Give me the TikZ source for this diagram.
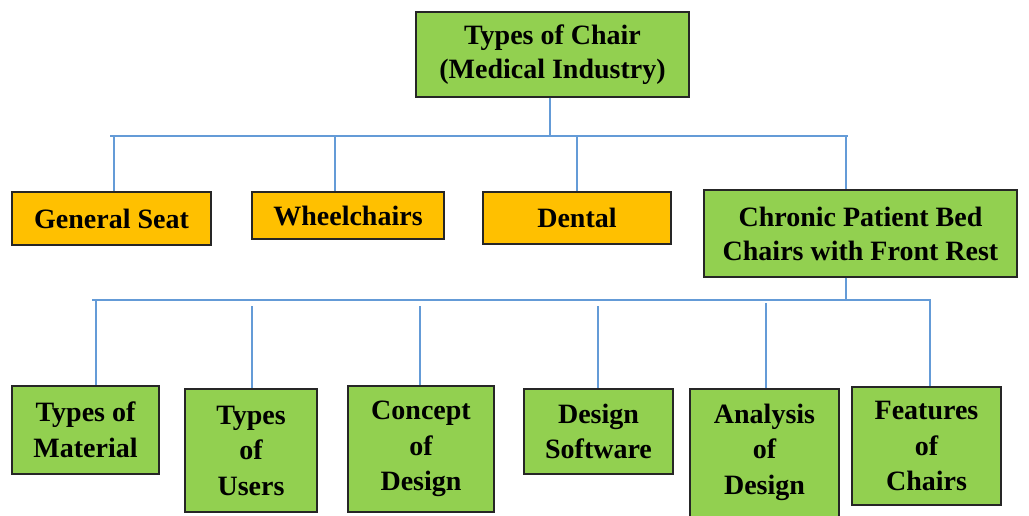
\documentclass[tikz,border=0pt]{standalone}
\usepackage{fontspec}
\setmainfont{Liberation Serif}

\definecolor{boxgreen}{RGB}{146,208,80}
\definecolor{boxorange}{RGB}{255,192,0}
\definecolor{linkblue}{RGB}{100,155,215}

\begin{document}
\begin{tikzpicture}[x=1pt,y=-1pt,
    boxtext/.style={inner sep=0pt, align=center, font=\bfseries\fontsize{28}{34}\selectfont},
    box/.style={boxtext, draw=black!85, line width=1.2pt},
    greenbox/.style={box, fill=boxgreen},
    orangebox/.style={box, fill=boxorange},
    lowbox/.style={greenbox, font=\bfseries\fontsize{28}{35.5}\selectfont},
    link/.style={draw=linkblue, line width=1.6pt}]
    \useasboundingbox (0,0) rectangle (1029,516);

    % top
    \node[greenbox, minimum width=273, minimum height=85] (chair) at (552.5,54.5) {Types of Chair\\(Medical Industry)};

    % first row
    \node[orangebox, minimum width=199, minimum height=53] (seat) at (111.5,218.5) {General Seat};
    \node[orangebox, minimum width=192, minimum height=47] (wheel) at (348,215.5) {Wheelchairs};
    \node[orangebox, minimum width=188, minimum height=52] (dental) at (577,218) {Dental};
    \node[greenbox, minimum width=313, minimum height=87] (chronic) at (860.5,233.5) {Chronic Patient Bed\\Chairs with Front Rest};

    % second row
    \node[lowbox, minimum width=147, minimum height=88] (material) at (85.5,430) {Types of\\Material};
    \node[lowbox, minimum width=132, minimum height=123] (users) at (251,450.5) {Types\\of\\Users};
    \node[lowbox, minimum width=146, minimum height=126] (concept) at (421,449) {Concept\\of\\Design};
    \node[lowbox, minimum width=149, minimum height=85] (software) at (598.5,431.5) {Design\\Software};
    \node[lowbox, minimum width=149, minimum height=141] (analysis) at (764.5,459.5) {};
    \node[boxtext, font=\bfseries\fontsize{28}{35.5}\selectfont] (analysistxt) at (764.5,452) {Analysis\\of\\Design};
    \node[lowbox, minimum width=149, minimum height=118] (features) at (926.5,446) {Features\\of\\Chairs};

    % upper bus
    \coordinate (top) at (550,136);
    \draw[link] (chair.south -| top) -- (top);
    \draw[link] (110,136) -- (848,136);
    \coordinate (t1) at (114,136);
    \coordinate (t2) at (335,136);
    \coordinate (t3) at (577,136);
    \coordinate (t4) at (846,136);
    \draw[link] (t1) -- (t1 |- seat.north);
    \draw[link] (t2) -- (t2 |- wheel.north);
    \draw[link] (t3) -- (t3 |- dental.north);
    \draw[link] (t4) -- (t4 |- chronic.north);

    % lower bus
    \coordinate (low) at (846,300);
    \draw[link] (chronic.south -| low) -- (low);
    \draw[link] (92,300) -- (931,300);
    \coordinate (b1) at (96,300);
    \coordinate (b2) at (252,306);
    \coordinate (b3) at (420,306);
    \coordinate (b4) at (598,306);
    \coordinate (b5) at (766,303);
    \coordinate (b6) at (930,300);
    \draw[link] (b1) -- (b1 |- material.north);
    \draw[link] (b2) -- (b2 |- users.north);
    \draw[link] (b3) -- (b3 |- concept.north);
    \draw[link] (b4) -- (b4 |- software.north);
    \draw[link] (b5) -- (b5 |- analysis.north);
    \draw[link] (b6) -- (b6 |- features.north);
\end{tikzpicture}
\end{document}
